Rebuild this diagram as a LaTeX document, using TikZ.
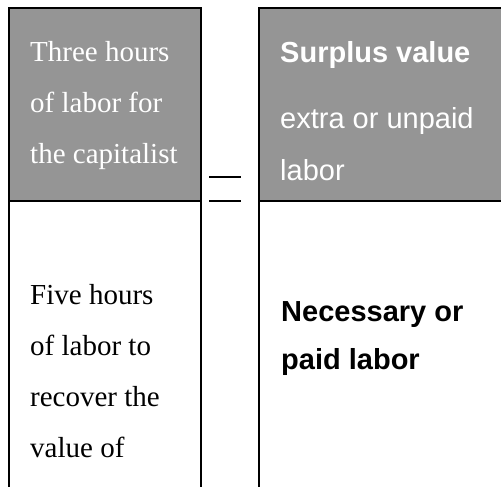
\documentclass[tikz,border=0pt]{standalone}
\usepackage{fontspec}
\newfontfamily\serifface{Liberation Serif}
\newfontfamily\sansface{Liberation Sans}
\definecolor{boxgray}{RGB}{149,149,149}
\begin{document}
\begin{tikzpicture}[x=1pt,y=1pt,
  serifline/.style={anchor=base west,inner sep=0pt,font=\serifface\fontsize{29}{29}\selectfont},
  sansline/.style={anchor=base west,inner sep=0pt,font=\sansface\fontsize{29}{29}\selectfont},
  thinrule/.style={line width=1.5pt},
  thickrule/.style={line width=2pt}]
\useasboundingbox (0,0) rectangle (501,487);
% left column
\fill[boxgray] (9,479) rectangle (201,286);
\draw[thinrule] (9,0) -- (9,479) -- (201,479) -- (201,0);
\draw[thinrule] (9,286) -- (201,286);
% right column
\fill[boxgray] (259,479) rectangle (501,286);
\draw[thickrule] (501,479) -- (259,479) -- (259,0);
\draw[thickrule] (259,286) -- (501,286);
% equals sign
\draw[line width=1.2pt] (209,310) -- (241,310);
\draw[line width=1.2pt] (209,286) -- (241,286);
% left top text
\node[serifline,text=white] (lt1) at (30,425) {Three hours};
\node[serifline,text=white] (lt2) at (30,374) {of labor for};
\node[serifline,text=white] (lt3) at (30,323) {the capitalist};
% left bottom text
\node[serifline] (lb1) at (30,182) {Five hours};
\node[serifline] (lb2) at (30,131) {of labor to};
\node[serifline] (lb3) at (30,80) {recover the};
\node[serifline] (lb4) at (30,29) {value of};
% right top text
\node[sansline,text=white,font=\sansface\bfseries\fontsize{29}{29}\selectfont] (rt1) at (280,424) {Surplus value};
\node[sansline,text=white] (rt2) at (280,358) {extra or unpaid};
\node[sansline,text=white] (rt3) at (280,306) {labor};
% right bottom text
\node[sansline,font=\sansface\bfseries\fontsize{29}{29}\selectfont] (rb1) at (281,165) {Necessary or};
\node[sansline,font=\sansface\bfseries\fontsize{29}{29}\selectfont] (rb2) at (281,117) {paid labor};
\end{tikzpicture}
\end{document}
